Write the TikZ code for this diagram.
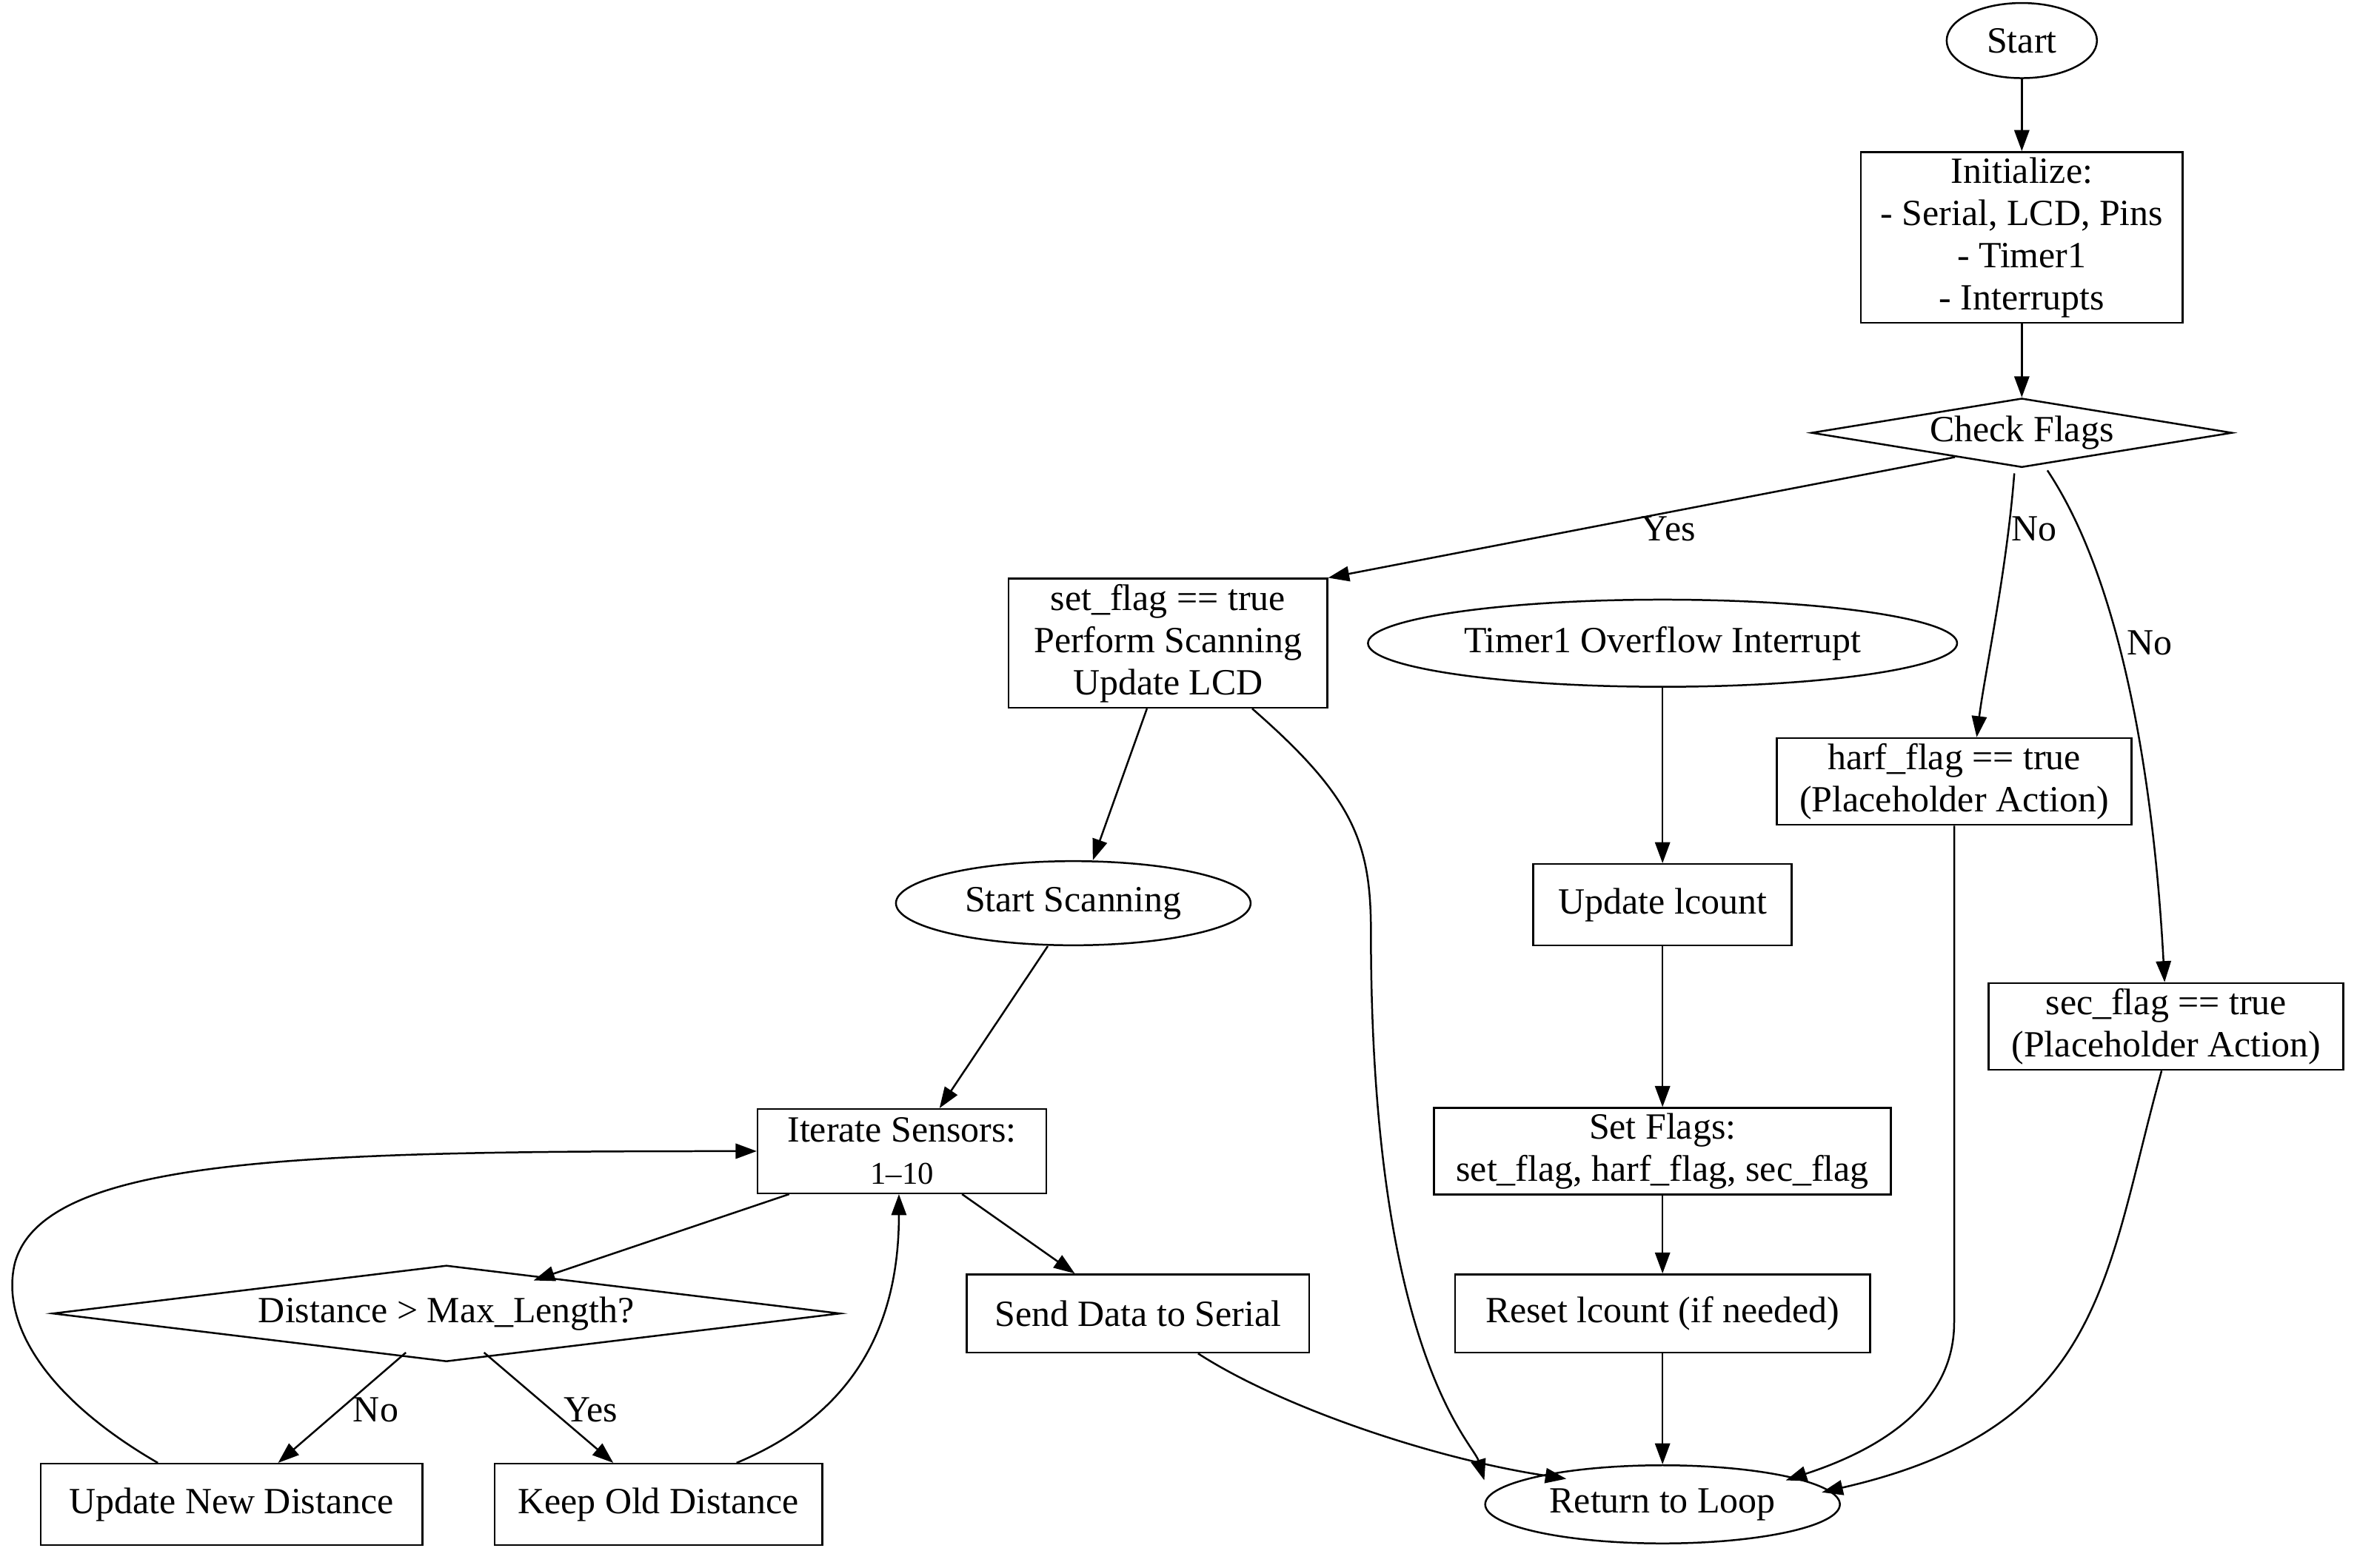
\documentclass[tikz,border=0pt]{standalone}
\usepackage{fontspec}
\setmainfont{Liberation Serif}
\usetikzlibrary{shapes.geometric,arrows.meta}
\begin{document}
\begin{tikzpicture}[x=0.02cm,y=-0.02cm,
  every node/.style={font=\fontsize{14}{16}\selectfont, align=center, inner sep=2pt},
  box/.style={draw, rectangle, line width=0.7pt},
  ell/.style={draw, ellipse, line width=0.7pt, inner sep=0pt},
  dia/.style={draw, diamond, aspect=6, line width=0.7pt, inner sep=0pt},
  arr/.style={-{Triangle[length=0.28cm,width=0.2cm]}, line width=0.7pt},
  lbl/.style={font=\fontsize{14}{16}\selectfont}]
\useasboundingbox (0,0) rectangle (1568,1043);
\node[ell, minimum width=2cm, minimum height=1cm] (start) at (1345,27) {Start};
\node[box, minimum width=4.28cm, minimum height=2cm] (init) at (1345,158) {Initialize:\\- Serial, LCD, Pins\\- Timer1\\- Interrupts};
\node[dia, minimum width=5.6cm, minimum height=0.92cm] (check) at (1345,288) {Check Flags};
\node[box, minimum width=4.24cm, minimum height=1.52cm] (set) at (777,428) {set\_flag == true\\Perform Scanning\\Update LCD};
\node[ell, minimum width=7.84cm, minimum height=1.16cm] (timer) at (1106,428) {Timer1 Overflow Interrupt};
\node[box, minimum width=4.72cm, minimum height=1.12cm] (harf) at (1300,520) {harf\_flag == true\\(Placeholder Action)};
\node[ell, minimum width=4.72cm, minimum height=1.12cm] (scan) at (714,601) {Start Scanning};
\node[box, minimum width=3.44cm, minimum height=1.08cm] (upd) at (1106,602) {Update lcount};
\node[box, minimum width=4.72cm, minimum height=1.12cm] (sec) at (1441,683) {sec\_flag == true\\(Placeholder Action)};
\node[box, minimum width=3.84cm, minimum height=1.12cm] (iter) at (600,766) {Iterate Sensors:\\{\fontsize{12}{14}\selectfont 1--10}};
\node[box, minimum width=6.08cm, minimum height=1.12cm] (flags) at (1106,766) {Set Flags:\\set\_flag, harf\_flag, sec\_flag};
\node[dia, minimum width=10.48cm, minimum height=1.08cm] (dist) at (297,874) {Distance > Max\_Length?};
\node[box, minimum width=4.56cm, minimum height=1.04cm] (send) at (757,874) {Send Data to Serial};
\node[box, minimum width=5.52cm, minimum height=1.04cm] (reset) at (1106,874) {Reset lcount (if needed)};
\node[box, minimum width=5.08cm, minimum height=1.08cm] (newd) at (154,1001) {Update New Distance};
\node[box, minimum width=4.36cm, minimum height=1.08cm] (oldd) at (438,1001) {Keep Old Distance};
\node[ell, minimum width=4.72cm, minimum height=1.04cm] (ret) at (1106,1001) {Return to Loop};

\draw[arr] (start) -- (init);
\draw[arr] (init) -- (check);
\draw[arr] (check.200) -- (set.north east) ;
\node[lbl] (ly) at (1110,352) {Yes};
\draw[arr] (1340,315) .. controls (1335,380) and (1320,450) .. (harf.north -| 1315,0);
\node[lbl] (ln1) at (1353,352) {No};
\draw[arr] (1362,313) .. controls (1420,400) and (1435,560) .. (sec.north -| 1440,0);
\node[lbl] (ln2) at (1430,428) {No};
\draw[arr] (set.south -| 763,0) -- (scan.north -| 727,0);
\draw[arr] (set.south -| 833,0) .. controls (900,530) and (912,560) .. (912,620) .. controls (912,900) and (980,960) .. (ret.west |- 0,985);
\draw[arr] (timer) -- (upd);
\draw[arr] (upd) -- (flags);
\draw[arr] (flags) -- (reset);
\draw[arr] (reset) -- (ret);
\draw[arr] (scan.south -| 697,0) -- (iter.north -| 625,0);
\draw[arr] (iter.south -| 525,0) -- (355,852);
\draw[arr] (iter.south -| 640,0) -- (send.north -| 715,0);
\draw[arr] (270,900) -- (newd.north -| 185,0);
\node[lbl] (lno) at (250,938) {No};
\draw[arr] (322,900) -- (oldd.north -| 408,0);
\node[lbl] (lyes) at (393,938) {Yes};
\draw[arr] (newd.north -| 105,0) .. controls (30,930) and (0,880) .. (10,840) .. controls (30,770) and (200,766) .. (iter.west);
\draw[arr] (oldd.north -| 490,0) .. controls (570,940) and (598,880) .. (iter.south -| 598,0);
\draw[arr] (send.south -| 797,0) .. controls (850,935) and (950,970) .. (1042,984);
\draw[arr] (harf.south) -- (1300,880) .. controls (1300,940) and (1240,968) .. (1188,985);
\draw[arr] (sec.south -| 1438,0) .. controls (1400,850) and (1400,950) .. (1212,993);
\end{tikzpicture}
\end{document}
